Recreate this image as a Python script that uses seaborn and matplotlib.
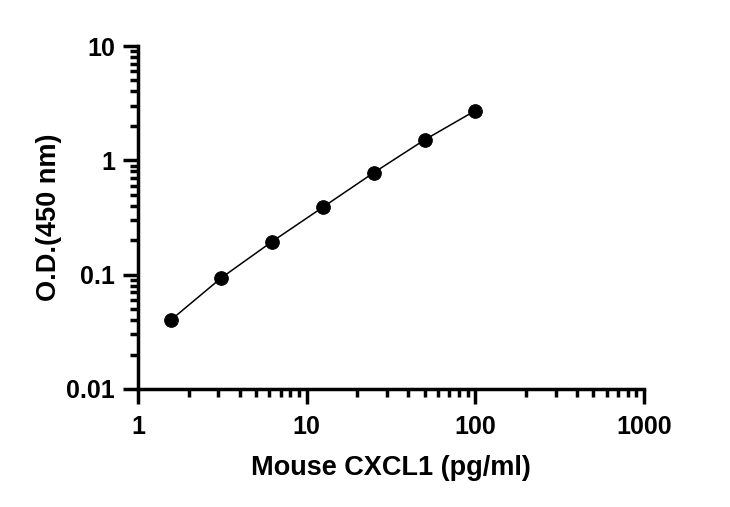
import matplotlib
matplotlib.use("Agg")
import matplotlib.pyplot as plt
import matplotlib.ticker as mticker
import seaborn as sns
import pandas as pd

concentration = [1.5625, 3.125, 6.25, 12.5, 25, 50, 100]
od450 = [0.040, 0.094, 0.195, 0.39, 0.78, 1.51, 2.72]
x_ticks = [1, 10, 100, 1000]
x_tick_labels = ["1", "10", "100", "1000"]
y_ticks = [0.01, 0.1, 1, 10]
y_tick_labels = ["0.01", "0.1", "1", "10"]

sns.set_theme(style="white")
plt.rcParams['font.family'] = ['Liberation Sans', 'DejaVu Sans']
plt.rcParams['font.weight'] = 'bold'

df = pd.DataFrame({"conc": concentration, "od": od450})

fig = plt.figure(figsize=(7.3, 5.07), dpi=100)
ax = fig.add_axes([138/730, 1-389/507, (644-138)/730, (389-46)/507])

sns.lineplot(data=df, x="conc", y="od", ax=ax, color="black", linewidth=1.1,
             marker="o", markersize=9.8, markeredgecolor="black", markerfacecolor="black")

ax.set_xscale("log")
ax.set_yscale("log")
ax.set_xlim(1, 1000)
ax.set_ylim(0.01, 10)

ax.set_xticks(x_ticks)
ax.set_xticklabels(x_tick_labels)
ax.set_yticks(y_ticks)
ax.set_yticklabels(y_tick_labels)
ax.xaxis.set_minor_locator(mticker.LogLocator(base=10, subs=range(2, 10)))
ax.yaxis.set_minor_locator(mticker.LogLocator(base=10, subs=range(2, 10)))
ax.xaxis.set_minor_formatter(mticker.NullFormatter())
ax.yaxis.set_minor_formatter(mticker.NullFormatter())

for s in ["top", "right"]:
    ax.spines[s].set_visible(False)
for s in ["left", "bottom"]:
    ax.spines[s].set_linewidth(2.5)
    ax.spines[s].set_color("black")

ax.tick_params(axis="both", which="major", direction="out", length=10.5, width=2.5,
               color="black", labelsize=18, labelcolor="black", bottom=True, left=True)
ax.tick_params(axis="x", which="major", pad=8)
ax.tick_params(axis="y", which="major", pad=6)
ax.tick_params(axis="both", which="minor", direction="out", length=6, width=2.5,
               color="black", bottom=True, left=True)
for lbl in ax.get_xticklabels() + ax.get_yticklabels():
    lbl.set_fontweight("bold")

ax.set_xlabel("Mouse CXCL1 (pg/ml)", fontsize=19.5, fontweight="bold", color="black", labelpad=12)
ax.set_ylabel("O.D.(450 nm)", fontsize=19.5, fontweight="bold", color="black", labelpad=3)
ax.grid(False)
ax.set_facecolor("white")
fig.patch.set_facecolor("white")

fig.savefig("out.png", dpi=100)
